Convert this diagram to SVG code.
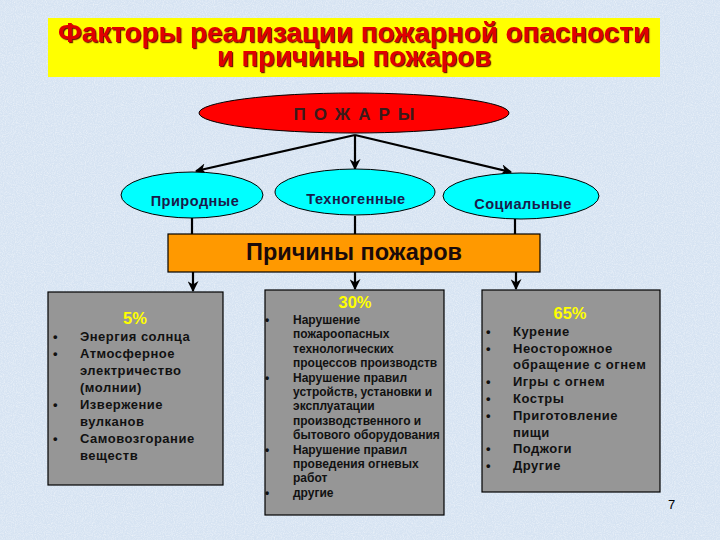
<svg xmlns="http://www.w3.org/2000/svg" width="720" height="540" viewBox="0 0 720 540">
<defs>
<style>
.t{font-family:"Liberation Sans",Arial,sans-serif;font-weight:bold}
.title{font-size:27.5px;fill:#e00000;text-anchor:middle}
.cy{fill:#00ffff;stroke:#000;stroke-width:1}
.cyt{font-size:14.5px;fill:#1a1a4a;text-anchor:middle;letter-spacing:0.5px}
.box{fill:#969696;stroke:#000;stroke-width:1.2}
.pct{font-size:16.5px;fill:#ffff00;text-anchor:middle}
.li{font-size:13px;fill:#111;letter-spacing:0.5px}
.lm{font-size:12px;fill:#111}
.con{stroke:#000;stroke-width:2.2;fill:none}
</style>
<filter id="sh" x="-5%" y="-20%" width="110%" height="140%">
<feDropShadow dx="1.2" dy="1.2" stdDeviation="0.4" flood-color="#600000" flood-opacity="0.9"/>
</filter>
<filter id="noise" x="0" y="0" width="100%" height="100%">
<feTurbulence type="fractalNoise" baseFrequency="0.9" numOctaves="2" seed="4"/>
<feColorMatrix type="matrix" values="0 0 0 0 1  0 0 0 0 1  0 0 0 0 1  0 0 0 1.6 -0.6"/>
</filter>
<marker id="ah" viewBox="0 0 10 10" refX="9" refY="5" markerWidth="5" markerHeight="5" orient="auto" markerUnits="strokeWidth">
<path d="M0,0 L10,5 L0,10 L3,5 z" fill="#000"/>
</marker>
</defs>
<rect x="0" y="0" width="720" height="540" fill="#d6e3f2"/>
<rect x="0" y="0" width="720" height="540" filter="url(#noise)" opacity="0.55"/>
<g id="title">
<rect x="48" y="18" width="612" height="59" fill="#ffff00"/>
<text class="t title" filter="url(#sh)"><tspan x="354" y="42" textLength="592" lengthAdjust="spacingAndGlyphs">Факторы реализации пожарной опасности</tspan><tspan x="354" y="66">и причины пожаров</tspan></text>
</g>
<g id="connectors">
<line class="con" x1="355" y1="135" x2="196" y2="171" marker-end="url(#ah)"/>
<line class="con" x1="355" y1="135" x2="355" y2="169" marker-end="url(#ah)"/>
<line class="con" x1="355" y1="135" x2="511" y2="172" marker-end="url(#ah)"/>
<line class="con" x1="192" y1="218" x2="192" y2="234"/>
<line class="con" x1="355" y1="216" x2="355" y2="234"/>
<line class="con" x1="515" y1="219" x2="515" y2="234"/>
<line class="con" x1="193" y1="272" x2="193" y2="291" marker-end="url(#ah)"/>
<line class="con" x1="355" y1="272" x2="355" y2="289" marker-end="url(#ah)"/>
<line class="con" x1="516" y1="272" x2="516" y2="289" marker-end="url(#ah)"/>
</g>
<g id="fires">
<ellipse cx="354" cy="113" rx="155" ry="20" fill="#ff0000" stroke="#000" stroke-width="1"/>
<text class="t" x="358" y="120" font-size="17" fill="#3a1a1a" text-anchor="middle" letter-spacing="8">ПОЖАРЫ</text>
</g>
<g id="natural">
<ellipse class="cy" cx="192" cy="195" rx="71" ry="23"/>
<text class="t cyt" x="195" y="206">Природные</text>
</g>
<g id="technogenic">
<ellipse class="cy" cx="355" cy="192" rx="80" ry="23"/>
<text class="t cyt" x="356" y="204">Техногенные</text>
</g>
<g id="social">
<ellipse class="cy" cx="521" cy="196" rx="78" ry="23"/>
<text class="t cyt" x="523" y="209">Социальные</text>
</g>
<g id="causes">
<rect x="168" y="234" width="372" height="38" fill="#ff9900" stroke="#000" stroke-width="1.2"/>
<text class="t" x="354" y="260" font-size="23.5" fill="#1a0a0a" text-anchor="middle">Причины пожаров</text>
</g>
<g id="box-natural">
<rect class="box" x="48" y="292" width="175" height="193"/>
<text class="t pct" x="135" y="324">5%</text>
<g class="t li">
<text x="53" y="341">•</text>
<text x="53" y="358">•</text>
<text x="53" y="409">•</text>
<text x="53" y="443">•</text>
<text x="80" y="341">Энергия солнца</text>
<text x="80" y="358">Атмосферное</text>
<text x="80" y="375">электричество</text>
<text x="80" y="392">(молнии)</text>
<text x="80" y="409">Извержение</text>
<text x="80" y="426">вулканов</text>
<text x="80" y="443">Самовозгорание</text>
<text x="80" y="460">веществ</text>
</g>
</g>
<g id="box-tech">
<rect class="box" x="265" y="290" width="179" height="225"/>
<text class="t pct" x="355" y="308">30%</text>
<g class="t lm">
<text x="265" y="324">•</text>
<text x="265" y="382">•</text>
<text x="265" y="454">•</text>
<text x="265" y="497">•</text>
<text x="293" y="324">Нарушение</text>
<text x="293" y="338">пожароопасных</text>
<text x="293" y="353">технологических</text>
<text x="293" y="367">процессов производств</text>
<text x="293" y="382">Нарушение правил</text>
<text x="293" y="396">устройств, установки и</text>
<text x="293" y="410">эксплуатации</text>
<text x="293" y="425">производственного и</text>
<text x="293" y="439">бытового оборудования</text>
<text x="293" y="454">Нарушение правил</text>
<text x="293" y="468">проведения огневых</text>
<text x="293" y="482">работ</text>
<text x="293" y="497">другие</text>
</g>
</g>
<g id="box-social">
<rect class="box" x="482" y="290" width="178" height="202"/>
<text class="t pct" x="570" y="319">65%</text>
<g class="t li">
<text x="486" y="336">•</text>
<text x="486" y="353">•</text>
<text x="486" y="386">•</text>
<text x="486" y="403">•</text>
<text x="486" y="420">•</text>
<text x="486" y="453">•</text>
<text x="486" y="470">•</text>
<text x="513" y="336">Курение</text>
<text x="513" y="353">Неосторожное</text>
<text x="513" y="369">обращение с огнем</text>
<text x="513" y="386">Игры с огнем</text>
<text x="513" y="403">Костры</text>
<text x="513" y="420">Приготовление</text>
<text x="513" y="437">пищи</text>
<text x="513" y="453">Поджоги</text>
<text x="513" y="470">Другие</text>
</g>
</g>
<text x="668" y="509" font-family="Liberation Sans,Arial,sans-serif" font-size="13" fill="#000">7</text>
</svg>
